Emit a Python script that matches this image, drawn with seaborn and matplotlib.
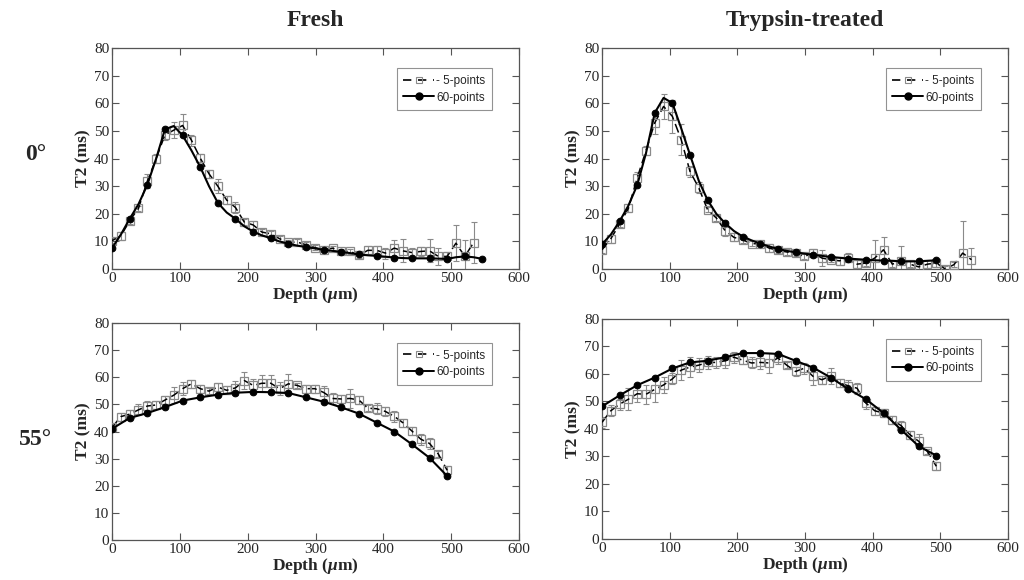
import matplotlib
matplotlib.use("Agg")
import matplotlib.pyplot as plt
from matplotlib.lines import Line2D
import seaborn as sns

# depth grids (um)
depth_13 = [0, 13, 26, 39, 52, 65, 78, 91, 104, 117, 130, 143, 156, 169, 182, 195,
            208, 221, 234, 247, 260, 273, 286, 299, 312, 325, 338, 351, 364, 377,
            390, 403, 416, 429, 442, 455, 468, 481, 494, 507, 520, 533, 546]
depth_26 = [0, 26, 52, 78, 104, 130, 156, 182, 208, 234, 260, 286, 312, 338, 364,
            390, 416, 442, 468, 494]

# Fresh, 0 deg
fresh0_5pt = [10.3, 12, 17.5, 22, 31.8, 40, 48.6, 50.3, 52, 46.7, 40.2, 34.5, 30, 25,
              22.3, 17, 16, 13.4, 12.8, 11, 9.7, 9.8, 8.8, 7.8, 7, 7.6, 6.4, 6.4, 5,
              6.8, 6.8, 5.8, 7.6, 6.6, 6, 6.4, 6.6, 4.6, 4.6, 9.4, 4.6, 9.6]
fresh0_5pt_err = [1, 1.5, 1, 1, 2.5, 1.5, 2, 3, 4, 2, 1.5, 1.5, 2.5, 1.5, 2, 1, 1.5,
                  1, 1, 1, 1, 1, 1, 1, 0.8, 0.8, 0.8, 0.8, 0.8, 1.5, 1.5, 2, 3, 4.2,
                  1.5, 1.5, 4.2, 3, 1.5, 6.6, 6, 7.5]
fresh0_60pt = [7.6, 12.5, 18.2, 23.5, 30.5, 40, 50.6, 51.8, 48.4, 43, 37, 30, 24,
               20.5, 18.2, 15.5, 13.6, 12.2, 11.2, 10, 9.2, 8.5, 8, 7.5, 7, 6.6, 6.2,
               5.8, 5.3, 5, 4.8, 4.5, 4.2, 4, 3.9, 3.9, 3.9, 3.8, 3.7, 4.3, 4.6, 4.3,
               3.7]

# Trypsin-treated, 0 deg
tryp0_5pt = [7, 11, 16.3, 22, 33, 42.9, 53, 58.9, 55.3, 46.9, 35.4, 29.4, 21.5, 18.5,
             13.9, 11.5, 10.6, 9.2, 9.2, 7.6, 6.8, 6.2, 5.8, 4.6, 5.8, 4, 3.4, 3, 4.2,
             1.8, 2.2, 4, 7, 1.8, 2.8, 1.8, 0.8, 1.8, 2.2, 0.1, 1.6, 5.8, 3.4]
tryp0_5pt_err = [1, 1.5, 1, 1.5, 2, 1.5, 4, 4.5, 6, 5.5, 2, 2, 1, 1, 2, 1.5, 1, 1, 1,
                 1.5, 1, 1, 1, 1, 1.5, 3, 1, 1.5, 1.5, 1.5, 1, 6.5, 4.5, 1, 5.5, 1, 1,
                 1.5, 1.5, 1, 1, 11.6, 4.4]
tryp0_60pt = [9, 12.5, 17.3, 23, 30.4, 42, 56.6, 62, 60.1, 51, 41.4, 32, 25, 20, 16.6,
              13.8, 11.8, 10.4, 9.2, 8.2, 7.3, 6.6, 6.1, 5.6, 5.2, 4.8, 4.4, 4.1, 3.8,
              3.6, 3.4, 3.2, 3.1, 3, 2.8, 2.8, 2.8, 3, 3.2]

# Fresh, 55 deg
fresh55_5pt = [41.5, 45.5, 46.4, 48, 49.4, 49.8, 51.6, 53.4, 55.8, 57.6, 55.8, 54.9,
               56.4, 55.2, 56.1, 58.8, 57, 57.8, 57.8, 55.8, 57.6, 57, 55.8, 55.8, 54.4,
               52.2, 52, 52.2, 51.6, 48.6, 48.4, 47.4, 45.6, 43.2, 40.2, 37.2, 35.6,
               31.7, 25.7]
fresh55_5pt_err = [1, 1.5, 1.5, 2, 2, 1.5, 1.5, 3, 2.5, 1.5, 1.5, 1, 1.5, 1.5, 2.5, 3,
                   2.5, 3, 3, 2.5, 3.5, 1, 1.5, 1.5, 2.5, 2, 1.5, 3.5, 1.5, 1, 2, 1.5,
                   2, 1.5, 1.5, 2, 2, 1, 1.5]
fresh55_60pt = [41, 45, 46.8, 49, 51.4, 52.6, 53.6, 54.3, 54.6, 54.5, 54.2, 52.6, 51,
                48.9, 46.6, 43.3, 40, 35.3, 30.3, 23.6]

# Trypsin-treated, 55 deg
tryp55_5pt = [42.4, 46.6, 49, 50.8, 52.8, 52.6, 54.4, 56, 58.2, 61.4, 62.5, 63.2, 64.2,
              64.2, 64.8, 66.1, 65, 64, 64.2, 64, 65.8, 63.2, 60.9, 62.1, 59.1, 57.9,
              59.3, 56.7, 55.7, 54.8, 49.4, 46.6, 45.8, 43.3, 41.2, 37.9, 35.5, 31.8,
              26.4]
tryp55_5pt_err = [2, 2, 2, 4, 3, 3.5, 4.5, 3, 2, 3.5, 3.5, 2.5, 2.5, 2, 2.5, 2, 1.5,
                  2, 2.5, 3.5, 2, 1, 1.5, 2, 3, 1.5, 3, 1.5, 2, 2, 2, 1.5, 1.5, 1.5,
                  1.5, 1.5, 2.5, 1, 1.5]
tryp55_60pt = [48.2, 52.2, 55.9, 58.7, 62, 64.2, 64.8, 66.1, 67.6, 67.6, 67.3, 64.8,
               62.3, 58.7, 54.5, 50.8, 45.8, 39.7, 33.7, 30.3]

col_titles = ["Fresh", "Trypsin-treated"]
row_titles = ["0\u00b0", "55\u00b0"]

sns.set_style("ticks")
plt.rcParams["font.family"] = ["Liberation Serif", "DejaVu Serif"]
plt.rcParams["mathtext.fontset"] = "custom"
plt.rcParams["mathtext.it"] = "Liberation Serif:italic:bold"
plt.rcParams["mathtext.rm"] = "Liberation Serif:bold"

fig = plt.figure(figsize=(10.24, 5.8), dpi=100)

# [left, bottom, width, height] in figure fraction
boxes = [[0.1094, 0.536, 0.3975, 0.381],
         [0.5879, 0.536, 0.3965, 0.381],
         [0.1094, 0.069, 0.3975, 0.374],
         [0.5879, 0.071, 0.3965, 0.379]]

panels = [
    (depth_13[:42], fresh0_5pt, fresh0_5pt_err, depth_13, fresh0_60pt, 2),
    (depth_13, tryp0_5pt, tryp0_5pt_err, depth_13[:39], tryp0_60pt, 2),
    (depth_13[:39], fresh55_5pt, fresh55_5pt_err, depth_26, fresh55_60pt, 1),
    (depth_13[:39], tryp55_5pt, tryp55_5pt_err, depth_26, tryp55_60pt, 1),
]

grey = "#8a8a8a"
for box, (x5, y5, e5, x60, y60, every) in zip(boxes, panels):
    ax = fig.add_axes(box)
    ax.errorbar(x5, y5, yerr=e5, fmt="none", ecolor=grey, elinewidth=0.8,
                capsize=2.2, capthick=0.8, zorder=2)
    sns.lineplot(x=x5, y=y5, ax=ax, color="black", linewidth=1.1,
                 linestyle=(0, (6, 3)), marker="s", markersize=5.5,
                 markerfacecolor="none", markeredgecolor=grey,
                 markeredgewidth=0.9, zorder=3)
    sns.lineplot(x=x60, y=y60, ax=ax, color="black", linewidth=1.5,
                 marker="o", markersize=4.8, markevery=every,
                 markeredgecolor="black", zorder=4)
    ax.set_xlim(0, 600)
    ax.set_ylim(0, 80)
    ax.set_xticks(range(0, 601, 100))
    ax.set_yticks(range(0, 81, 10))
    ax.tick_params(direction="in", top=True, right=True, length=5, width=0.8,
                   color="#555555", labelsize=11, pad=2)
    for s in ax.spines.values():
        s.set_color("#555555")
        s.set_linewidth(0.9)
    ax.set_xlabel(r"Depth ($\mu$m)", fontsize=12.5, fontweight="bold", labelpad=0)
    ax.set_ylabel("T2 (ms)", fontsize=12.5, fontweight="bold", labelpad=2)

    handles = [
        Line2D([], [], color="black", linewidth=1.2, linestyle=(0, (5, 4)),
               marker="s", markersize=5, markerfacecolor="none",
               markeredgecolor=grey, markeredgewidth=0.8),
        Line2D([], [], color="black", linewidth=1.4, marker="o", markersize=5),
    ]
    leg = ax.legend(handles, ["- 5-points", "60-points"], loc="upper right",
                    bbox_to_anchor=(0.948, 0.935), fancybox=False, frameon=True,
                    edgecolor="#777777", handlelength=2.6, handletextpad=0.2,
                    borderpad=0.55, labelspacing=0.4,
                    prop={"family": "Liberation Sans", "size": 8.5})
    leg.get_frame().set_linewidth(0.8)

for x, t in zip([0.308, 0.786], col_titles):
    fig.text(x, 0.965, t, ha="center", va="center", fontsize=17, fontweight="bold")
for y, t in zip([0.733, 0.242], row_titles):
    fig.text(0.035, y, t, ha="center", va="center", fontsize=17, fontweight="bold")

fig.savefig("out.png", dpi=100)
